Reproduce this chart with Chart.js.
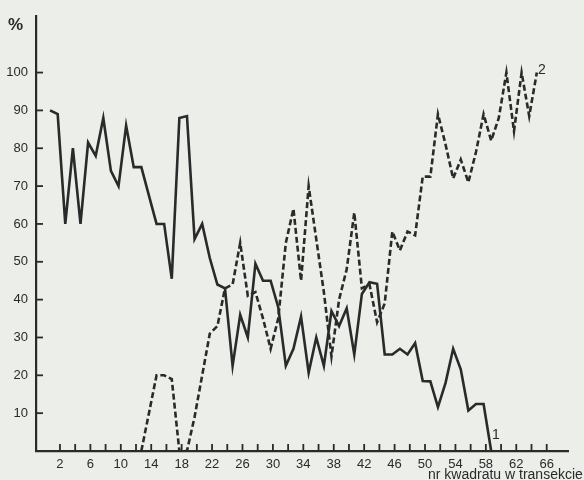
<!DOCTYPE html>
<html>
<head>
<meta charset="utf-8">
<script src="https://cdn.jsdelivr.net/npm/chart.js@4/dist/chart.umd.min.js"></script>
<style>
  html, body { margin: 0; padding: 0; background: #eceee9; }
  #wrap { width: 584px; height: 480px; }
</style>
</head>
<body>
<div id="wrap"><canvas id="myChart" width="584" height="480"></canvas></div>
<script>
// square numbers along the transect
var squares = [1,2,3,4,5,6,7,8,9,10,11,12,13,14,15,16,17,18,19,20,21,22,23,24,25,26,27,28,29,30,
  31,32,33,34,35,36,37,38,39,40,41,42,43,44,45,46,47,48,49,50,51,52,53,54,55,56,57,58,59,60,
  61,62,63,64,65];
// line 1 (solid), %
var series1 = [90,89,60,80,60,81.5,78,88,74,70,
  86,75,75,67.5,60,60,45.5,88,88.5,56,
  60,51,44,43,22.5,36,30,49.5,45,45,
  38,22.5,27,35.5,20.7,30,22.5,37,33,37.7,
  25.5,41.5,44.6,44.2,25.5,25.5,27,25.5,28.5,18.5,
  18.4,11.6,18,27,21.6,10.7,12.4,12.4,0,null,
  null,null,null,null,null];
// line 2 (dashed), %
var series2 = [null,null,null,null,null,null,null,null,null,null,
  null,null,0,10,20,20,19,0,0,9,
  20,31,33,43,44,55,41,42,35,27,
  35,55,64,45,70,56,42,25,40,48,
  63,43,44,34,39,58,53,58,57,72.5,
  72.5,89,81,72,77,71,79,89,82,88,
  100,84.5,100,88.5,100];
var xTicks = [2,4,6,8,10,12,14,16,18,20,22,24,26,28,30,32,34,36,38,40,42,44,46,48,50,52,54,56,58,60,62,64,66];
var xLabels = [2,6,10,14,18,22,26,30,34,38,42,46,50,54,58,62,66];
var yTicks = [10,20,30,40,50,60,70,80,90,100];

var ink = '#2a2a2a';
var shift = -0.3; // squares sit a little left of their tick

function pts(vals) {
  var out = [];
  for (var i = 0; i < squares.length; i++) {
    if (vals[i] !== null) out.push({x: squares[i] + shift, y: vals[i]});
  }
  return out;
}

var extras = {
  id: 'extras',
  afterDraw: function (chart) {
    var c = chart.ctx, xs = chart.scales.x, ys = chart.scales.y;
    c.save();
    c.strokeStyle = ink;
    c.lineWidth = 1.8;
    // inward tick marks
    xTicks.forEach(function (t) {
      var px = xs.getPixelForValue(t);
      c.beginPath(); c.moveTo(px, ys.bottom); c.lineTo(px, ys.bottom - 7); c.stroke();
    });
    yTicks.forEach(function (t) {
      var py = ys.getPixelForValue(t);
      c.beginPath(); c.moveTo(xs.left, py); c.lineTo(xs.left + 7, py); c.stroke();
    });
    c.fillStyle = ink;
    c.textBaseline = 'alphabetic';
    c.textAlign = 'left';
    c.font = 'bold 17px "Liberation Sans", Arial, sans-serif';
    c.fillText('%', 8, 30);
    c.font = '14px "Liberation Sans", Arial, sans-serif';
    c.fillText('nr kwadratu w transekcie', 428, 479);
    c.font = '14px "Liberation Sans", Arial, sans-serif';
    c.fillText('1', 492, 439);
    c.fillText('2', 538, 74);
    c.restore();
  }
};

var ctx = document.getElementById('myChart').getContext('2d');
var myChart = new Chart(ctx, {
  type: 'line',
  data: {
    datasets: [{
      label: '1',
      data: pts(series1),
      borderColor: ink,
      borderWidth: 2.6,
      pointRadius: 0,
      tension: 0,
      borderJoinStyle: 'miter'
    }, {
      label: '2',
      data: pts(series2),
      borderColor: ink,
      borderWidth: 2.6,
      borderDash: [6, 3],
      pointRadius: 0,
      tension: 0
    }]
  },
  plugins: [extras],
  options: {
    responsive: false,
    animation: false,
    layout: { padding: { top: 10, right: 16, left: 0, bottom: 0 } },
    plugins: { legend: { display: false }, tooltip: { enabled: false } },
    scales: {
      x: {
        type: 'linear',
        min: -1.15,
        max: 68.8,
        afterBuildTicks: function (s) { s.ticks = xTicks.map(function (v) { return {value: v}; }); },
        afterFit: function (s) { s.height = 29; },
        grid: { drawOnChartArea: false, drawTicks: false },
        border: { display: true, color: ink, width: 2.2 },
        ticks: {
          autoSkip: false,
          maxRotation: 0,
          padding: 6,
          color: ink,
          font: { family: '"Liberation Sans Narrow", "Liberation Sans", Arial', size: 13 },
          callback: function (v) { return xLabels.indexOf(v) >= 0 ? String(v) : ''; }
        }
      },
      y: {
        min: 0,
        max: 115,
        afterBuildTicks: function (s) { s.ticks = yTicks.map(function (v) { return {value: v}; }); },
        afterFit: function (s) { s.width = 36; },
        grid: { drawOnChartArea: false, drawTicks: false },
        border: { display: true, color: ink, width: 2.2 },
        ticks: {
          padding: 8,
          color: ink,
          font: { family: '"Liberation Sans", Arial', size: 13 }
        }
      }
    }
  }
});
</script>
</body>
</html>
